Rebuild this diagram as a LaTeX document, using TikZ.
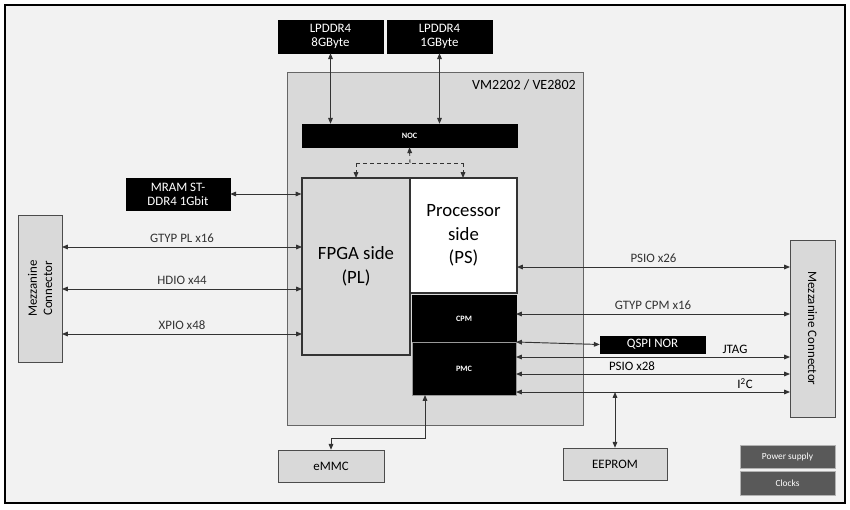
\documentclass[tikz,border=0pt]{standalone}
\usepackage{fontspec}
\setmainfont{Carlito}
\usetikzlibrary{arrows.meta}

\definecolor{bg}{HTML}{F2F2F2}
\definecolor{chip}{HTML}{D9D9D9}
\definecolor{dark}{HTML}{595959}

\tikzset{
  blk/.style={draw=black,fill=black,text=white,align=center,inner sep=0pt},
  gry/.style={draw=black!70,fill=chip,align=center,inner sep=0pt},
  lnk/.style={{Triangle[length=5pt,width=4pt]}-{Triangle[length=5pt,width=4pt]},line width=0.8pt,black!80},
  lbl/.style={font=\fontsize{11}{12}\selectfont}
}

\begin{document}
\begin{tikzpicture}[x=0.03cm,y=-0.03cm]
\useasboundingbox (0,0) rectangle (850,509);
\draw[fill=bg,line width=1pt] (5,5) rectangle (845,503);

% chip
\draw[fill=chip,draw=black!60] (287,72) rectangle (583,425);
\node[anchor=north east,font=\fontsize{12}{13}\selectfont] (chiplbl) at (580,76) {VM2202 / VE2802};

% memories on top
\node[blk,minimum width=105*0.03cm,minimum height=33*0.03cm,font=\fontsize{11}{12}\selectfont] (ddra) at (330.5,36.5) {LPDDR4\\8GByte};
\node[blk,minimum width=105*0.03cm,minimum height=33*0.03cm,font=\fontsize{11}{12}\selectfont] (ddrb) at (439.5,36.5) {LPDDR4\\1GByte};
\node[blk,minimum width=215*0.03cm,minimum height=23*0.03cm,font=\fontsize{7}{8}\selectfont\bfseries] (noc) at (409.5,135.5) {NOC};

% inner blocks
\node[gry,draw=black!80,line width=1pt,minimum width=108*0.03cm,minimum height=177*0.03cm,font=\fontsize{16}{20}\selectfont] (pl) at (356,266.5) {FPGA side\\(PL)};
\node[draw=black!80,line width=1pt,fill=white,align=center,inner sep=0pt,minimum width=107*0.03cm,minimum height=115*0.03cm,font=\fontsize{16}{20}\selectfont] (ps) at (463.5,235.5) {Processor\\side\\(PS)};
\node[blk,minimum width=104*0.03cm,minimum height=47*0.03cm,font=\fontsize{7}{8}\selectfont\bfseries] (cpm) at (464,318.5) {CPM};
\node[blk,draw=black!40,minimum width=104*0.03cm,minimum height=53*0.03cm,font=\fontsize{7}{8}\selectfont\bfseries] (pmc) at (464,368.5) {PMC};

% outside blocks
\node[blk,minimum width=104*0.03cm,minimum height=32*0.03cm,font=\fontsize{11}{12}\selectfont] (mram) at (178,194) {MRAM ST-\\DDR4 1Gbit};
\node[gry,minimum width=44*0.03cm,minimum height=147*0.03cm] (mzl) at (40,288.5) {};
\node[rotate=90,align=center,font=\fontsize{11}{13}\selectfont] (mzltxt) at (mzl) {Mezzanine\\Connector};
\node[gry,minimum width=45*0.03cm,minimum height=177*0.03cm] (mzr) at (812.5,328.5) {};
\node[rotate=-90,font=\fontsize{11}{13}\selectfont] (mzrtxt) at (mzr) {Mezzanine Connector};
\node[blk,minimum width=105*0.03cm,minimum height=17*0.03cm,font=\fontsize{11}{12}\selectfont] (qspi) at (652.5,344.5) {QSPI NOR};
\node[gry,minimum width=104*0.03cm,minimum height=32*0.03cm,font=\fontsize{11}{12}\selectfont] (eeprom) at (615,464) {EEPROM};
\node[gry,minimum width=106*0.03cm,minimum height=32*0.03cm,font=\fontsize{11}{12}\selectfont] (emmc) at (331,466) {eMMC};
\node[draw=black!30,fill=dark,text=white,minimum width=95*0.03cm,minimum height=23*0.03cm,inner sep=0pt,font=\fontsize{8}{9}\selectfont] (pwr) at (787.5,456.5) {Power supply};
\node[draw=black!30,fill=dark,text=white,minimum width=95*0.03cm,minimum height=24*0.03cm,inner sep=0pt,font=\fontsize{8}{9}\selectfont] (clk) at (787.5,483) {Clocks};

% memory links
\draw[lnk] (ddra.south) -- (ddra.south |- noc.north);
\draw[lnk] (ddrb.south) -- (ddrb.south |- noc.north);
\coordinate (dmid) at (410,163);
\draw[lnk,-{Triangle[length=5pt,width=4pt]},dashed] (dmid) -- (noc.south);
\draw[lnk,dashed,-] (356,163) -- (463,163);
\draw[lnk,dashed,-{Triangle[length=5pt,width=4pt]}] (356,163) -- (356,178);
\draw[lnk,dashed,-{Triangle[length=5pt,width=4pt]}] (463,163) -- (463,178);
\draw[lnk] (mram.east) -- (mram.east -| pl.west);

% PL links
\draw[lnk] (62,247) -- node[lbl,above] {GTYP PL x16} (302,247);
\draw[lnk] (62,289) -- node[lbl,above] {HDIO x44} (302,289);
\draw[lnk] (62,334) -- node[lbl,above] {XPIO x48} (302,334);

% PS links
\draw[lnk] (517,267) -- node[lbl,above] {PSIO x26} (790,267);
\draw[lnk] (516,314) -- node[lbl,above] {GTYP CPM x16} (790,314);
\draw[lnk] (516,342) -- (qspi.west);
\draw[lnk] (516,357) -- (790,357);
\node[lbl,anchor=south] (jtag) at (735,358) {JTAG};
\draw[lnk] (516,374) -- (790,374);
\node[lbl,anchor=south] (psio) at (632,375) {PSIO x28};
\draw[lnk] (516,392) -- (790,392);
\node[lbl,anchor=south] (iic) at (745,393) {I\textsuperscript{2}C};
\draw[lnk] (615,392) -- (eeprom.north);
\draw[lnk] (425,395) -- (425,438) -- (331,438) -- (emmc.north);
\end{tikzpicture}
\end{document}
